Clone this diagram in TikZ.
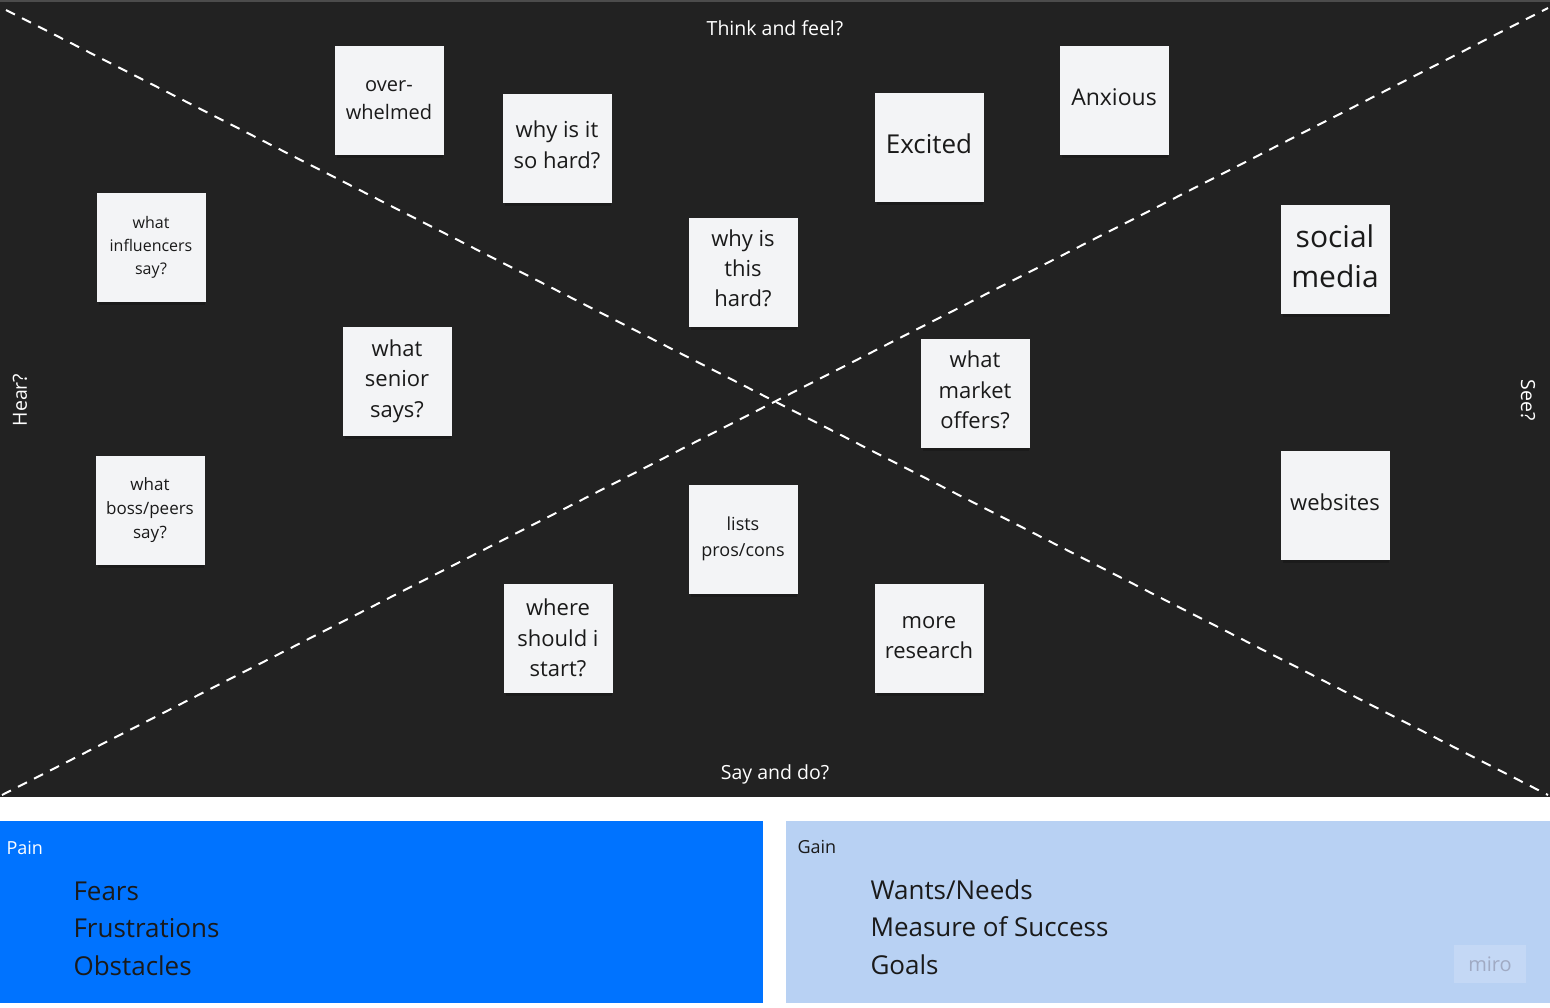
\documentclass[tikz,border=0pt]{standalone}
\usepackage{fontspec}
\setmainfont{Open Sans}
\begin{document}
\begin{tikzpicture}[x=1pt, y=-1pt,
        sticky/.style={fill=stickycolor, minimum width=109pt, minimum height=109pt, align=center, text=notetext, inner sep=2pt},
        axislabel/.style={text=white, font=\fontsize{19.5}{23}\selectfont},
        boxitem/.style={anchor=north west, align=left, font=\fontsize{26}{37.5}\selectfont}]
        % Definiere die Farben
        \definecolor{boardcolor}{RGB}{34, 34, 34}
        \definecolor{stickycolor}{RGB}{243, 244, 246}
        \definecolor{notetext}{RGB}{26, 26, 26}
        \definecolor{paincolor}{RGB}{0, 115, 255}
        \definecolor{gaincolor}{RGB}{184, 209, 243}
        \definecolor{miroback}{RGB}{196, 216, 245}
        \definecolor{mirotext}{RGB}{160, 170, 195}

        % Hintergrund und Tafel
        \useasboundingbox (0, 0) rectangle (1550, 1007);
        \fill[white] (0, 0) rectangle (1550, 1007);
        \fill[black!70] (0, 0) rectangle (1550, 3);
        \fill[boardcolor] (0, 2) rectangle (1550, 797);

        % Zeichne die Diagonalen
        \coordinate (tl) at (6, 10);
        \coordinate (br) at (1548, 795);
        \coordinate (bl) at (2, 795);
        \coordinate (tr) at (1548, 8);
        \draw[white, line width=2pt, dash pattern=on 10pt off 8pt] (tl) -- (br);
        \draw[white, line width=2pt, dash pattern=on 10pt off 8pt] (bl) -- (tr);

        % Beschriftung der Felder
        \node[axislabel] (think) at (775, 28) {Think and feel?};
        \node[axislabel] (say) at (775, 774) {Say and do?};
        \node[axislabel, rotate=90] (hear) at (20, 400) {Hear?};
        \node[axislabel, rotate=-90] (see) at (1528, 400) {See?};

        % Schatten der Zettel
        \foreach \x/\y in {389/100, 557/148, 151/247, 743/272, 929/147, 1114/100, 1335/259, 397/381,
                975/393, 150/510, 1335/505, 743/539, 558/638, 929/638}
            \fill[black, opacity=0.2] (\x-52, \y-50) rectangle (\x+54, \y+58);

        % Zeichne die Zettel
        \node[sticky, font=\fontsize{20}{28}\selectfont] (overwhelmed) at (389, 100) {over-\\whelmed};
        \node[sticky, font=\fontsize{22}{31}\selectfont] (sohard) at (557, 148) {why is it\\so hard?\\[-25pt]};
        \node[sticky, font=\fontsize{16}{23}\selectfont] (influencers) at (151, 247) {what\\influencers\\say?};
        \node[sticky, font=\fontsize{22}{30}\selectfont] (thishard) at (743, 272) {why is\\this\\hard?\\[-22pt]};
        \node[sticky, font=\fontsize{26}{34}\selectfont] (excited) at (929, 147) {Excited\\[-28pt]};
        \node[sticky, font=\fontsize{23}{30}\selectfont] (anxious) at (1114, 100) {Anxious\\[-24pt]};
        \node[sticky, font=\fontsize{30}{40}\selectfont] (social) at (1335, 259) {social\\media\\[-34pt]};
        \node[sticky, font=\fontsize{22}{30.5}\selectfont] (senior) at (397, 381) {what\\senior\\says?};
        \node[sticky, font=\fontsize{22}{30.5}\selectfont] (market) at (975, 393) {what\\market\\offers?\\[-24pt]};
        \node[sticky, font=\fontsize{17}{24}\selectfont] (bosspeers) at (150, 510) {what\\boss/peers\\say?};
        \node[sticky, font=\fontsize{22}{30}\selectfont] (websites) at (1335, 505) {websites\\[-24pt]};
        \node[sticky, font=\fontsize{18}{26}\selectfont] (proscons) at (743, 539) {lists\\pros/cons\\[-22pt]};
        \node[sticky, font=\fontsize{22}{30.5}\selectfont] (start) at (558, 638) {where\\should i\\start?};
        \node[sticky, font=\fontsize{22}{30}\selectfont] (research) at (929, 638) {more\\research};

        % Pain und Gain
        \fill[paincolor] (0, 821) rectangle (763, 1003);
        \fill[gaincolor] (786, 821) rectangle (1550, 1003);
        \node[anchor=west, text=white, font=\fontsize{18}{22}\selectfont] (pain) at (3, 848) {Pain};
        \node[anchor=west, text=notetext, font=\fontsize{18}{22}\selectfont] (gain) at (794, 847) {Gain};
        \node[boxitem, text=notetext] (painlist) at (70, 878) {Fears\\Frustrations\\Obstacles};
        \node[boxitem, text=notetext] (gainlist) at (867, 876) {Wants/Needs\\Measure of Success\\Goals};

        % Wasserzeichen
        \node[fill=miroback, text=mirotext, minimum width=72pt, minimum height=38pt,
            font=\fontsize{20}{24}\selectfont] (miro) at (1490, 964) {miro};
    \end{tikzpicture}
\end{document}
